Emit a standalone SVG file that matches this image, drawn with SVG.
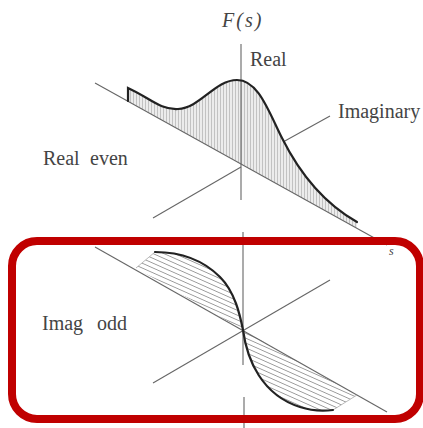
<svg xmlns="http://www.w3.org/2000/svg" width="423" height="428" viewBox="0 0 423 428">
<style>
.ax{stroke:#666;stroke-width:1.1;fill:none}
.cv{stroke:#222;stroke-width:2.2;fill:none;stroke-linecap:round}
.lbl{font-family:"Liberation Serif","DejaVu Serif",serif;font-size:20px;fill:#444}
.it{font-style:italic}
.sm{font-size:12px}
</style>
<defs>
<pattern id="vh" patternUnits="userSpaceOnUse" width="3" height="10">
<rect width="3" height="10" fill="#ececec"/>
<line x1="1.5" y1="0" x2="1.5" y2="10" stroke="#b8b8b8" stroke-width="0.8"/>
</pattern>
<pattern id="dh" patternUnits="userSpaceOnUse" width="10" height="4.4" patternTransform="rotate(24)">
<rect width="10" height="4.4" fill="#fff"/>
<line x1="0" y1="2.2" x2="10" y2="2.2" stroke="#999" stroke-width="0.9"/>
</pattern>
</defs>
<rect width="423" height="428" fill="#fff"/>
<g id="top-plot">
<path d="M128,88 C150,98 160,110 178,109 C200,108 215,80 237,80 C258,80 268,110 282,138 C296,166 318,200 357,222 L357,228 L128,101 Z" fill="url(#vh)" stroke="none"/>
<g id="connectors-top">
<line class="ax" x1="241" y1="44" x2="241" y2="200"/>
<line class="ax" x1="95" y1="83" x2="387" y2="245"/>
<line class="ax" x1="153" y1="218" x2="241" y2="167"/>
<line class="ax" x1="283" y1="142" x2="330" y2="116"/>
</g>
<path class="cv" d="M128,101 L128,88 C150,98 160,110 178,109 C200,108 215,80 237,80 C258,80 268,110 282,138 C296,166 318,200 357,222"/>
</g>
<g id="bottom-plot">
<path d="M136,268 L155,252 C185,252 205,262 220,277 C235,292 240,315 243,330 Z" fill="url(#dh)" stroke="none"/>
<path d="M243,330 C247,360 262,395 300,407 C315,412 325,411 333,410 L357,395 Z" fill="url(#dh)" stroke="none"/>
<g id="connectors-bottom">
<line class="ax" x1="243" y1="232" x2="243" y2="365"/>
<line class="ax" x1="244" y1="397" x2="244" y2="428"/>
<line class="ax" x1="95" y1="247" x2="387" y2="412"/>
<line class="ax" x1="153" y1="383" x2="330" y2="280"/>
<line x1="136" y1="268" x2="155" y2="252" stroke="#aaa" stroke-width="0.8"/>
<line x1="333" y1="410" x2="357" y2="395" stroke="#aaa" stroke-width="0.8"/>
</g>
<path class="cv" d="M155,252 C185,252 205,262 220,277 C235,292 240,315 243,330"/>
<path class="cv" d="M243,330 C247,360 262,395 300,407 C315,412 325,411 333,410"/>
</g>
<g id="labels">
<text class="lbl it" x="222" y="27" letter-spacing="2" fill="#333">F(s)</text>
<text class="lbl" x="250" y="66">Real</text>
<text class="lbl" x="338" y="118">Imaginary</text>
<text class="lbl" x="43" y="165">Real</text>
<text class="lbl" x="90" y="165">even</text>
<text class="lbl" x="42" y="330">Imag</text>
<text class="lbl" x="97" y="330">odd</text>
<text class="lbl it sm" x="389" y="255">s</text>
</g>
<g id="highlight">
<rect x="12" y="241" width="408" height="178" rx="25" ry="25" fill="none" stroke="#c00000" stroke-width="8"/>
</g>
</svg>
